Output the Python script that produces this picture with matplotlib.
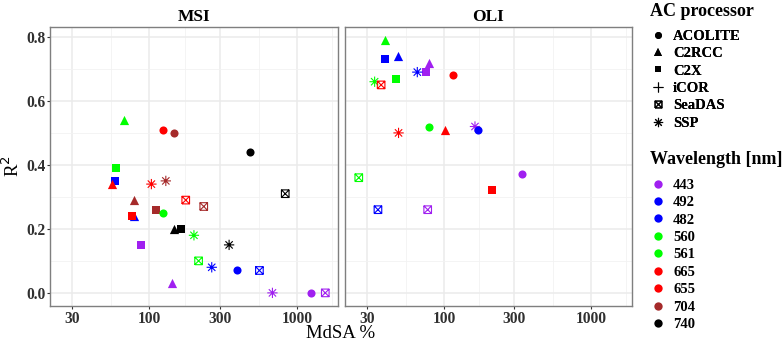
import matplotlib
matplotlib.use("Agg")
import matplotlib.pyplot as plt
import numpy as np
from matplotlib.path import Path
from matplotlib.lines import Line2D

plt.rcParams['font.family'] = ['Liberation Serif', 'DejaVu Serif']

# ---- data ----
msi_proc = ['C2RCC', 'ACOLITE', 'ACOLITE', 'ACOLITE', 'C2X', 'C2X', 'C2RCC', 'iCOR', 'iCOR',
            'SSP', 'SSP', 'iCOR', 'SeaDAS', 'C2RCC', 'iCOR', 'SeaDAS', 'SeaDAS', 'C2X',
            'ACOLITE', 'C2RCC', 'C2X', 'C2RCC', 'C2X', 'SSP', 'C2X', 'SSP', 'iCOR',
            'SeaDAS', 'SSP', 'ACOLITE', 'SeaDAS', 'C2RCC', 'SSP', 'ACOLITE', 'iCOR', 'SeaDAS']
msi_wl = ['560', '665', '704', '740', '560', '492', '665', '665', '704',
          '665', '704', '740', '740', '704', '560', '665', '704', '704',
          '560', '492', '665', '740', '740', '560', '443', '740', '492',
          '560', '492', '492', '492', '443', '443', '443', '443', '443']
msi_mdsa = [67, 123, 147, 479, 59, 58.7, 55.8, 116, 177,
            103, 129, 484, 830, 78, 105, 176, 233, 111,
            124, 78, 76, 146, 164, 200, 88, 346, 340,
            215, 264, 389, 555, 143, 680, 1240, 1416, 1550]
msi_r2 = [0.54, 0.51, 0.50, 0.44, 0.39, 0.35, 0.34, 0.38, 0.38,
          0.34, 0.35, 0.31, 0.31, 0.29, 0.29, 0.29, 0.27, 0.26,
          0.25, 0.24, 0.24, 0.20, 0.20, 0.18, 0.15, 0.15, 0.14,
          0.10, 0.08, 0.07, 0.07, 0.03, 0.00, 0.00, 0.00, 0.00]

oli_proc = ['C2RCC', 'C2X', 'C2RCC', 'C2RCC', 'iCOR', 'C2X', 'SSP', 'iCOR', 'C2X',
            'ACOLITE', 'SSP', 'SeaDAS', 'ACOLITE', 'C2RCC', 'SSP', 'ACOLITE', 'SSP',
            'ACOLITE', 'SeaDAS', 'C2X', 'iCOR', 'SeaDAS', 'SeaDAS', 'iCOR']
oli_wl = ['561', '482', '482', '443', '655', '443', '482', '561', '561',
          '655', '561', '655', '561', '655', '443', '482', '655',
          '443', '561', '655', '482', '482', '443', '443']
oli_mdsa = [39.7, 39.5, 48.5, 78.5, 76.4, 75, 65.7, 58, 47.2,
            114, 33.7, 37.3, 79, 101.6, 162, 171, 49,
            338, 26.3, 210, 214, 35.5, 77.3, 466]
oli_r2 = [0.79, 0.73, 0.74, 0.72, 0.70, 0.69, 0.69, 0.68, 0.67,
          0.68, 0.66, 0.65, 0.52, 0.51, 0.52, 0.51, 0.50,
          0.37, 0.36, 0.32, 0.29, 0.26, 0.26, 0.08]

processors = ['ACOLITE', 'C2RCC', 'C2X', 'iCOR', 'SeaDAS', 'SSP']
wavelengths = ['443', '492', '482', '560', '561', '665', '655', '704', '740']
wl_colors = ['#A020F0', '#0000FF', '#0000FF', '#00FF00', '#00FF00',
             '#FF0000', '#FF0000', '#A52A2A', '#000000']
color_of = dict(zip(wavelengths, wl_colors))

# ---- custom markers like R shapes 7 and 8 ----
sq_x = Path([(-1, -1), (1, -1), (1, 1), (-1, 1), (-1, -1),
             (-1, -1), (1, 1), (-1, 1), (1, -1)],
            [Path.MOVETO, Path.LINETO, Path.LINETO, Path.LINETO, Path.LINETO,
             Path.MOVETO, Path.LINETO, Path.MOVETO, Path.LINETO])
a = np.sqrt(0.5)
star8 = Path([(-1, 0), (1, 0), (0, -1), (0, 1), (-a, -a), (a, a), (-a, a), (a, -a)],
             [Path.MOVETO, Path.LINETO] * 4)

marker_style = {
    'ACOLITE': dict(marker='o', s=34, filled=True),
    'C2RCC': dict(marker='^', s=44, filled=True),
    'C2X': dict(marker='s', s=30, filled=True),
    'iCOR': dict(marker='+', s=60, filled=False),
    'SeaDAS': dict(marker=sq_x, s=30, filled=False),
    'SSP': dict(marker=star8, s=55, filled=False),
}


def draw_points(ax, proc, wl, mdsa, r2):
    for p, w, x, y in zip(proc, wl, mdsa, r2):
        st = marker_style[p]
        c = color_of[w]
        if st['filled']:
            ax.scatter([x], [y], marker=st['marker'], s=st['s'], color=c,
                       linewidths=0, zorder=3)
        else:
            ax.scatter([x], [y], marker=st['marker'], s=st['s'], facecolors='none',
                       edgecolors=c, color=c, linewidths=0.8, zorder=3)


fig = plt.figure(figsize=(7.82, 3.41), dpi=100)
W, H = 782, 341
ax1 = fig.add_axes([50 / W, 1 - 306 / H, 288 / W, 279 / H])
ax2 = fig.add_axes([345 / W, 1 - 306 / H, 287 / W, 279 / H])

draw_points(ax1, msi_proc, msi_wl, msi_mdsa, msi_r2)
draw_points(ax2, oli_proc, oli_wl, oli_mdsa, oli_r2)

for ax, title in [(ax1, 'MSI'), (ax2, 'OLI')]:
    ax.set_xscale('log')
    ax.set_xlim(21.2, 1890)
    ax.set_ylim(-0.041, 0.831)
    ax.set_xticks([30, 100, 300, 1000])
    ax.set_xticklabels(['30', '100', '300', '1000'])
    ax.set_xticks([54.8, 173.2, 547.7, 1732], minor=True)
    ax.set_yticks([0, 0.2, 0.4, 0.6, 0.8])
    ax.set_yticks([0.1, 0.3, 0.5, 0.7], minor=True)
    ax.grid(True, which='major', color='#EBEBEB', linewidth=1.1, zorder=0)
    ax.grid(True, which='minor', color='#F2F2F2', linewidth=0.6, zorder=0)
    ax.set_axisbelow(True)
    ax.tick_params(which='minor', length=0)
    ax.tick_params(which='major', length=2.5, color='#333333', width=0.8,
                   labelsize=11.2, pad=1)
    for lab in ax.get_xticklabels() + ax.get_yticklabels():
        lab.set_fontweight('bold')
        lab.set_color('#303030')
    for sp in ax.spines.values():
        sp.set_color('#7F7F7F')
        sp.set_linewidth(1.0)
    ax.set_title(title, fontsize=12.5, fontweight='bold', pad=4)

ax1.set_yticklabels(['0.0', '0.2', '0.4', '0.6', '0.8'])
ax2.tick_params(axis='y', which='both', left=False, labelleft=False)

fig.text(341 / W, 1 - 334 / H, 'MdSA %', ha='center', va='center', fontsize=13.5)
fig.text(12 / W, 1 - 166 / H, 'R$^2$', ha='center', va='center', fontsize=13.5,
         rotation=90)

# ---- legends (titles drawn as plain text) ----
proc_handles = []
for p in processors:
    st = marker_style[p]
    if st['filled']:
        h = Line2D([], [], linestyle='none', marker=st['marker'], color='black',
                   markersize=np.sqrt(st['s']) * 0.85, markeredgewidth=0)
    else:
        h = Line2D([], [], linestyle='none', marker=st['marker'], color='black',
                   markerfacecolor='none', markersize=np.sqrt(st['s']) * 0.9,
                   markeredgewidth=0.8)
    proc_handles.append(h)

wl_handles = [Line2D([], [], linestyle='none', marker='o', color=c, markersize=6,
                     markeredgewidth=0) for c in wl_colors]

common = dict(loc='upper left', frameon=False, labelspacing=0.29,
              handletextpad=0.45, handlelength=1.2, borderpad=0.0, borderaxespad=0.0,
              prop={'weight': 'bold', 'size': 10.5})
fig.text(650 / W, 1 - 12 / H, 'AC processor', ha='left', va='center',
         fontsize=13, fontweight='bold')
leg1 = fig.legend(proc_handles, processors, bbox_to_anchor=(649 / W, 1 - 29.5 / H),
                  **common)
fig.text(650 / W, 1 - 159 / H, 'Wavelength [nm]', ha='left', va='center',
         fontsize=13, fontweight='bold')
leg2 = fig.legend(wl_handles, wavelengths, bbox_to_anchor=(649 / W, 1 - 178.5 / H),
                  **common)
fig.add_artist(leg1)

fig.savefig('out.png', dpi=100)
